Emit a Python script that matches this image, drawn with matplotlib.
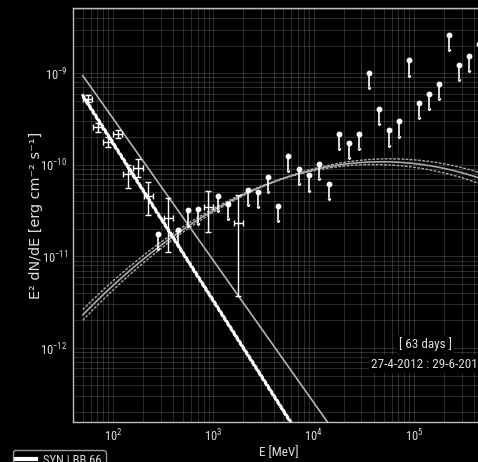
import numpy as np
import matplotlib
matplotlib.use('Agg')
import matplotlib.pyplot as plt
from matplotlib import font_manager
from matplotlib.lines import Line2D

# narrow face for ticks and annotations, if there is one
installed = {f.name for f in font_manager.fontManager.ttflist}
for name, size in [('Roboto Condensed', 9.0), ('Liberation Sans Narrow', 9.0),
                   ('Liberation Sans', 8.0)]:
    if name in installed:
        narrow, fs = name, size
        break
else:
    narrow, fs = 'DejaVu Sans', 7.5
plt.rcParams['font.family'] = [narrow, 'DejaVu Sans']

# flux points: energy [MeV], bin edges, E^2 dN/dE [erg cm-2 s-1] and errors
energy = np.array([56.2, 70.8, 89.1, 112.2, 141.3, 177.8, 223.9, 354.8, 891.3, 1778.0])
energy_lo = np.array([50.7, 63.8, 80.3, 101.2, 127.4, 160.3, 201.9, 319.9, 803.6, 1603.0])
energy_hi = np.array([62.3, 78.5, 98.8, 124.5, 156.7, 197.2, 248.4, 393.6, 988.6, 1972.0])
flux = np.array([5.27e-10, 2.56e-10, 1.77e-10, 2.17e-10, 7.94e-11,
                 9.23e-11, 4.52e-11, 2.62e-11, 3.44e-11, 2.33e-11])
flux_err_lo = np.array([4.2e-11, 2.8e-11, 2.2e-11, 2.3e-11, 2.4e-11,
                        1.9e-11, 1.7e-11, 1.5e-11, 1.6e-11, 1.96e-11])
flux_err_hi = np.array([4.6e-11, 3.1e-11, 2.5e-11, 2.6e-11, 2.1e-11,
                        2.4e-11, 2.0e-11, 1.7e-11, 1.8e-11, 2.3e-11])

# upper limits
ul_energy = np.array([281.8, 446.7, 562.3, 707.9, 1122, 1413, 2239, 2818, 3548, 4467,
                      5623, 7079, 8913, 11220, 14125, 17783, 22387, 28184, 35481, 44668,
                      56234, 70795, 89125, 112202, 141254, 177828, 223872, 281838, 354813, 446684])
ul_flux = np.array([1.77e-11, 1.95e-11, 3.18e-11, 3.32e-11, 4.60e-11, 3.73e-11, 5.35e-11, 5.02e-11, 7.33e-11, 3.57e-11,
                    1.26e-10, 8.99e-11, 7.66e-11, 1.03e-10, 6.17e-11, 2.17e-10, 1.73e-10, 2.19e-10, 1.00e-9, 4.09e-10,
                    2.38e-10, 2.98e-10, 1.38e-9, 4.73e-10, 5.97e-10, 7.62e-10, 2.63e-9, 1.22e-9, 1.55e-9, 2.08e-9])

# models
e_min, e_max = 50.0, 5e5
pl_flux_100, pl_index = 1.73e-10, 3.72          # SYN power law
pl2_flux_100, pl2_index = 3.22e-10, 3.55        # second power law
lp_peak_flux, lp_peak_energy, lp_beta = 1.08e-10, 4.8e4, 0.188   # log parabola

e = np.logspace(np.log10(e_min), np.log10(e_max), 400)
u = np.log10(e)
pl = pl_flux_100 * (e / 100.0) ** (2 - pl_index)
pl2 = pl2_flux_100 * (e / 100.0) ** (2 - pl2_index)
lp = lp_peak_flux * 10 ** (-lp_beta * np.log10(e / lp_peak_energy) ** 2)
pl_w = 0.016
lp_w = np.sqrt(0.004 ** 2 + (0.03 * (u - 3.65)) ** 2)

fig = plt.figure(figsize=(4.78, 4.62), dpi=100, facecolor='black')
ax = fig.add_axes([73 / 478, 40 / 462, 411 / 478, 414 / 462], facecolor='black')

ax.set_xscale('log')
ax.set_yscale('log')
ax.set_xlim(40, 5e5)
ax.set_ylim(1.56e-13, 5.15e-9)

ax.grid(True, which='both', color='white', alpha=0.2, lw=0.6)
ax.set_axisbelow(True)

# log parabola with its band
lp_col = '#a8a8a8'
ax.plot(e, lp, color=lp_col, lw=1.2)
ax.plot(e, lp * 10 ** lp_w, color=lp_col, lw=1.0, ls=(0, (2, 1)))
ax.plot(e, lp / 10 ** lp_w, color=lp_col, lw=1.0, ls=(0, (2, 1)))

# power laws
ax.plot(e, pl2, color='#b4b4b4', lw=1.2)
ax.plot(e, pl, color='white', lw=1.8)
ax.plot(e, pl * 10 ** pl_w, color='white', lw=1.4, ls=(0, (2, 1)))
ax.plot(e, pl / 10 ** pl_w, color='white', lw=1.4, ls=(0, (2, 1)))

# flux points
ax.errorbar(energy, flux, xerr=[energy - energy_lo, energy_hi - energy],
            yerr=[flux_err_lo, flux_err_hi], fmt='none', ecolor='white',
            elinewidth=1.0, capsize=2.2, capthick=1.0)

# upper limits
ax.errorbar(ul_energy, ul_flux, yerr=0.3 * ul_flux, uplims=True, fmt='o',
            color='white', ms=3.2, elinewidth=1.2, capsize=1.0)

for s in ax.spines.values():
    s.set_color('#bbbbbb')
    s.set_linewidth(1.0)
ax.tick_params(which='both', direction='in', length=0, colors='#dddddd',
               labelsize=fs, pad=4)
ax.set_xlabel('E [MeV]', color='#dddddd', fontsize=fs + 0.5, labelpad=1)
ax.set_ylabel('E\u00b2 dN/dE [erg cm\u207b\u00b2 s\u207b\u00b9]', color='#dddddd',
              fontsize=10.4, family='DejaVu Sans')
ax.yaxis.set_label_coords(-0.073, 0.5)

box = dict(facecolor='black', edgecolor='none', pad=1.5)
ax.text(0.857, 0.188, '[ 63 days ]', transform=ax.transAxes, ha='center', va='center',
        color='#dddddd', fontsize=fs + 0.5, bbox=box)
ax.text(0.862, 0.140, '27-4-2012 : 29-6-2012', transform=ax.transAxes, ha='center',
        va='center', color='#dddddd', fontsize=fs + 0.5, bbox=box)

handle = Line2D([], [], color='white', lw=3)
fig.legend([handle], ['SYN | BB 66'], loc='upper left',
           bbox_to_anchor=(12.7 / 478, 1 - 450 / 462), borderaxespad=0,
           facecolor='black', edgecolor='#999999', labelcolor='#dddddd',
           fontsize=fs, handlelength=1.6, handletextpad=0.55, borderpad=0.3,
           framealpha=1)

fig.savefig('out.png', dpi=100, facecolor='black')
